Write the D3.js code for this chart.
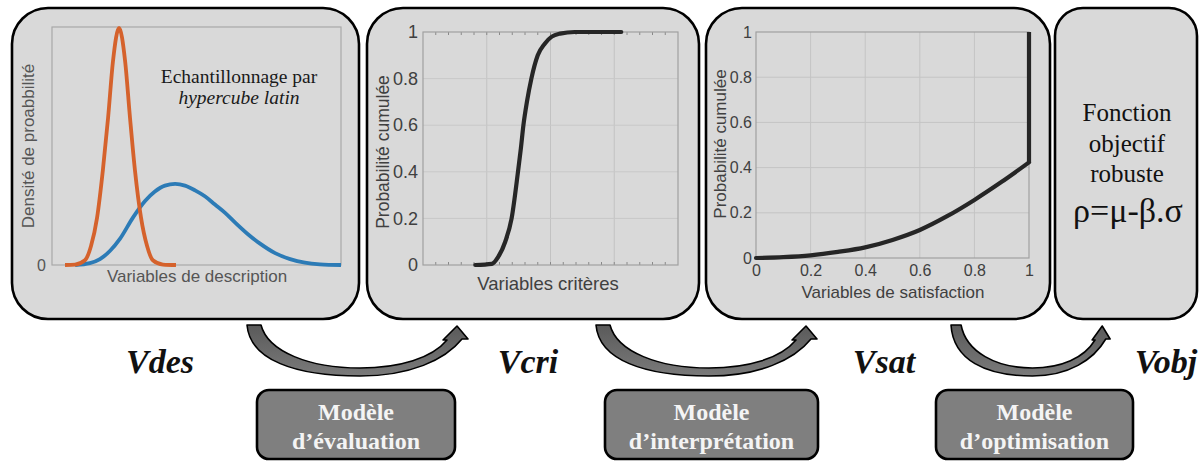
<!DOCTYPE html>
<html><head><meta charset="utf-8">
<script src="https://cdn.jsdelivr.net/npm/d3@7"></script>
<style>
html,body{margin:0;padding:0;background:#fff;}
svg{display:block;}
</style></head>
<body>
<svg id="c" width="1200" height="461"></svg>
<script>
// ---------- DATA ----------
const descX_orange = [4.5, 8, 11.4, 13.5, 15.6, 17.6, 19.4, 21.1, 23.2, 25.3, 27.0, 28.7, 30.8, 32.9, 34.9, 38.4, 42.9];
const descY_orange = [0, 0.002, 0.02, 0.08, 0.2, 0.4, 0.62, 0.86, 1.0, 0.86, 0.62, 0.4, 0.2, 0.08, 0.02, 0.002, 0];
const descX_blue = [8, 13.1, 16.6, 20.1, 23.5, 28.0, 32.2, 35.6, 39.1, 42.6, 46.0, 49.5, 52.9, 56.4, 59.9, 63.3, 67.8, 72.0, 77.2, 82.4, 87.5, 92.7, 100];
const descY_blue = [0, 0.008, 0.025, 0.06, 0.11, 0.2, 0.27, 0.31, 0.335, 0.342, 0.335, 0.315, 0.29, 0.255, 0.22, 0.18, 0.13, 0.09, 0.05, 0.025, 0.01, 0.003, 0];

const critX = [0.82, 1.08, 1.18, 1.29, 1.39, 1.49, 1.535, 1.575, 1.63, 1.70, 1.80, 1.91, 2.02, 2.15, 2.38, 3.11];
const critY = [0, 0.005, 0.035, 0.1, 0.2, 0.4, 0.5, 0.6, 0.7, 0.8, 0.9, 0.95, 0.98, 0.993, 1.0, 1.0];

const satX = [0, 0.1, 0.2, 0.3, 0.4, 0.5, 0.6, 0.7, 0.8, 0.9, 1.0];
const satY = [0, 0.004, 0.012, 0.027, 0.047, 0.08, 0.124, 0.185, 0.257, 0.337, 0.423];
const satJumpX = [1.0, 1.0];
const satJumpY = [0.423, 1.0];

const probTicks = [0, 0.2, 0.4, 0.6, 0.8, 1];
const probTickLabels = ["0", "0.2", "0.4", "0.6", "0.8", "1"];
const critGridX = [1, 2, 3];
const critMinorX = [0.2,0.4,0.6,0.8,1.2,1.4,1.6,1.8,2.2,2.4,2.6,2.8,3.2,3.4,3.6,3.8];

const varLabels = ["Vdes", "Vcri", "Vsat", "Vobj"];
const modelLine1 = ["Modèle", "Modèle", "Modèle"];
const modelLine2 = ["d’évaluation", "d’interprétation", "d’optimisation"];
const objLines = ["Fonction", "objectif", "robuste"];
const objFormula = "ρ=μ-β.σ";

// ---------- DRAW ----------
const svg = d3.select("#c");
const SANS = "'Liberation Sans', Arial, sans-serif";
const SERIF = "'Liberation Serif', 'Times New Roman', serif";
const SERIF_GREEK = "'Liberation Serif', 'DejaVu Serif', 'Noto Serif', serif";

const panels = [
  {x:12, y:8, w:347, h:311, r:36},
  {x:367, y:8, w:332, h:311, r:36},
  {x:706, y:8, w:344, h:311, r:36},
  {x:1055, y:8, w:142, h:311, r:28}
];
svg.selectAll("rect.panel").data(panels).enter().append("rect")
  .attr("class","panel")
  .attr("x", d=>d.x).attr("y", d=>d.y).attr("width", d=>d.w).attr("height", d=>d.h)
  .attr("rx", d=>d.r).attr("ry", d=>d.r)
  .attr("fill", "#d9d9d9").attr("stroke", "#000").attr("stroke-width", 2.6);

// ---- Panel 1: densities ----
{
  const x = d3.scaleLinear().domain([0,100]).range([52,341]);
  const y = d3.scaleLinear().domain([0,1]).range([265,28]);
  const g = svg.append("g");
  g.append("rect").attr("x",52).attr("y",27).attr("width",289).attr("height",238)
    .attr("fill","none").attr("stroke","#a8a8a8").attr("stroke-width",1.2);
  const line = d3.line().x(d=>x(d[0])).y(d=>y(d[1])).curve(d3.curveMonotoneX);
  g.append("path").attr("d", line(descX_blue.map((v,i)=>[v,descY_blue[i]])))
    .attr("fill","none").attr("stroke","#2C7BB6").attr("stroke-width",3.8);
  g.append("path").attr("d", line(descX_orange.map((v,i)=>[v,descY_orange[i]])))
    .attr("fill","none").attr("stroke","#D5622C").attr("stroke-width",3.8);
  const ax = g.append("g").attr("transform","translate(52,0)")
    .call(d3.axisLeft(y).tickValues([0]).tickSize(0).tickPadding(6).tickFormat(d=>"0"));
  ax.select(".domain").remove();
  ax.selectAll("text").attr("font-family",SANS).attr("font-size",16).attr("fill","#555");
  g.append("text").attr("x",197).attr("y",282).attr("text-anchor","middle")
    .attr("font-family",SANS).attr("font-size",17).attr("fill","#555").text("Variables de description");
  g.append("text").attr("transform","translate(34,146) rotate(-90)").attr("text-anchor","middle")
    .attr("font-family",SANS).attr("font-size",17).attr("fill","#555").text("Densité de proabbilité");
  g.append("text").attr("x",239).attr("y",83).attr("text-anchor","middle")
    .attr("font-family",SERIF).attr("font-size",19.5).attr("fill","#1a1a1a").text("Echantillonnage par");
  g.append("text").attr("x",239).attr("y",104).attr("text-anchor","middle")
    .attr("font-family",SERIF).attr("font-style","italic").attr("font-size",19.5).attr("fill","#1a1a1a").text("hypercube latin");
}

// ---- Panel 2: CDF criteria ----
{
  const x = d3.scaleLinear().domain([0,4]).range([423,678]);
  const y = d3.scaleLinear().domain([0,1]).range([265,32]);
  const g = svg.append("g");
  g.selectAll("line.gx").data(critGridX).enter().append("line")
    .attr("x1",d=>x(d)).attr("x2",d=>x(d)).attr("y1",y(0)).attr("y2",y(1))
    .attr("stroke","#c2c2c2").attr("stroke-width",1);
  g.selectAll("line.gy").data(probTicks.slice(1,5)).enter().append("line")
    .attr("x1",x(0)).attr("x2",x(4)).attr("y1",d=>y(d)).attr("y2",d=>y(d))
    .attr("stroke","#c8c8c8").attr("stroke-width",1);
  g.selectAll("line.mt").data(critMinorX.concat(critGridX)).enter().append("line")
    .attr("x1",d=>x(d)).attr("x2",d=>x(d)).attr("y1",y(0)).attr("y2",y(0)-3)
    .attr("stroke","#888").attr("stroke-width",1);
  g.selectAll("line.mt2").data(critMinorX.concat(critGridX)).enter().append("line")
    .attr("x1",d=>x(d)).attr("x2",d=>x(d)).attr("y1",y(1)).attr("y2",y(1)+3)
    .attr("stroke","#888").attr("stroke-width",1);
  g.append("rect").attr("x",423).attr("y",32).attr("width",255).attr("height",233)
    .attr("fill","none").attr("stroke","#a0a0a0").attr("stroke-width",1.2);
  const line = d3.line().x(d=>x(d[0])).y(d=>y(d[1])).curve(d3.curveMonotoneX);
  g.append("path").attr("d", line(critX.map((v,i)=>[v,critY[i]])))
    .attr("fill","none").attr("stroke","#262626").attr("stroke-width",4.2).attr("stroke-linecap","round");
  const ax = g.append("g").attr("transform","translate(423,0)")
    .call(d3.axisLeft(y).tickValues(probTicks).tickSize(0).tickPadding(5).tickFormat((d,i)=>probTickLabels[i]));
  ax.select(".domain").remove();
  ax.selectAll("text").attr("font-family",SANS).attr("font-size",18).attr("fill","#404040");
  g.append("text").attr("x",548).attr("y",290).attr("text-anchor","middle")
    .attr("font-family",SANS).attr("font-size",18.5).attr("fill","#404040").text("Variables critères");
  g.append("text").attr("transform","translate(389,152) rotate(-90)").attr("text-anchor","middle")
    .attr("font-family",SANS).attr("font-size",17.5).attr("fill","#404040").text("Probabilité cumulée");
}

// ---- Panel 3: CDF satisfaction ----
{
  const x = d3.scaleLinear().domain([0,1]).range([756,1029]);
  const y = d3.scaleLinear().domain([0,1]).range([258,32]);
  const g = svg.append("g");
  const inner = probTicks.slice(1,5);
  g.selectAll("line.gx").data(inner).enter().append("line")
    .attr("x1",d=>x(d)).attr("x2",d=>x(d)).attr("y1",y(0)).attr("y2",y(1))
    .attr("stroke","#c4c4c4").attr("stroke-width",1);
  g.selectAll("line.gy").data(inner).enter().append("line")
    .attr("x1",x(0)).attr("x2",x(1)).attr("y1",d=>y(d)).attr("y2",d=>y(d))
    .attr("stroke","#c4c4c4").attr("stroke-width",1);
  g.append("rect").attr("x",756).attr("y",32).attr("width",273).attr("height",226)
    .attr("fill","none").attr("stroke","#a0a0a0").attr("stroke-width",1.2);
  const line = d3.line().x(d=>x(d[0])).y(d=>y(d[1])).curve(d3.curveMonotoneX);
  g.append("path").attr("d", line(satX.map((v,i)=>[v,satY[i]])))
    .attr("fill","none").attr("stroke","#262626").attr("stroke-width",4.2).attr("stroke-linecap","round");
  g.append("path").attr("d", d3.line().x(d=>x(d[0])).y(d=>y(d[1]))(satJumpX.map((v,i)=>[v,satJumpY[i]])))
    .attr("fill","none").attr("stroke","#262626").attr("stroke-width",4.2).attr("stroke-linecap","butt");
  const ay = g.append("g").attr("transform","translate(756,0)")
    .call(d3.axisLeft(y).tickValues(probTicks).tickSize(0).tickPadding(4).tickFormat((d,i)=>probTickLabels[i]));
  ay.select(".domain").remove();
  ay.selectAll("text").attr("font-family",SANS).attr("font-size",16).attr("fill","#404040");
  const axx = g.append("g").attr("transform","translate(0,258)")
    .call(d3.axisBottom(x).tickValues(probTicks).tickSize(0).tickPadding(7).tickFormat((d,i)=>probTickLabels[i]));
  axx.select(".domain").remove();
  axx.selectAll("text").attr("font-family",SANS).attr("font-size",16).attr("fill","#404040");
  g.append("text").attr("x",893).attr("y",298).attr("text-anchor","middle")
    .attr("font-family",SANS).attr("font-size",17).attr("fill","#404040").text("Variables de satisfaction");
  g.append("text").attr("transform","translate(726,144) rotate(-90)").attr("text-anchor","middle")
    .attr("font-family",SANS).attr("font-size",17).attr("fill","#404040").text("Probabilité cumulée");
}

// ---- Panel 4: objective ----
{
  const g = svg.append("g");
  const ys = [121, 152, 182];
  g.selectAll("text.obj").data(objLines).enter().append("text")
    .attr("x",1127).attr("y",(d,i)=>ys[i]).attr("text-anchor","middle")
    .attr("font-family",SERIF).attr("font-size",25).attr("fill","#111").text(d=>d);
  g.append("text").attr("x",1128).attr("y",222).attr("text-anchor","middle")
    .attr("font-family",SERIF_GREEK).attr("font-size",34).attr("fill","#111").text(objFormula);
}

// ---- Curved arrows ----
function arrowPath(x0, s){
  const X = v => x0 + (v-247)*s;
  return `M${X(247)},325 L${X(261)},325 `+
    `C${X(268)},352 ${X(310)},368 ${X(360)},368 `+
    `C${X(400)},368 ${X(432)},358 ${X(447)},340 `+
    `L${X(443)},340 L${X(457)},326 L${X(468)},339 L${X(462)},339 `+
    `C${X(445)},360 ${X(410)},376 ${X(360)},376 `+
    `C${X(295)},376 ${X(250)},360 ${X(247)},325 Z`;
}
const defs = svg.append("defs");
const grad = defs.append("linearGradient").attr("id","ag").attr("x1","0").attr("y1","0").attr("x2","0").attr("y2","1");
grad.append("stop").attr("offset","0").attr("stop-color","#5a5a5a");
grad.append("stop").attr("offset","1").attr("stop-color","#7a7a7a");
const arrows = [{x0:247, s:1}, {x0:596, s:1}, {x0:951, s:0.72}];
svg.selectAll("path.arrow").data(arrows).enter().append("path")
  .attr("d", d=>arrowPath(d.x0, d.s))
  .attr("fill","url(#ag)").attr("stroke","#000").attr("stroke-width",1.6).attr("stroke-linejoin","round");

// ---- Variable labels ----
const varX = [160, 528, 884, 1166];
svg.selectAll("text.var").data(varLabels).enter().append("text")
  .attr("x",(d,i)=>varX[i]).attr("y",373).attr("text-anchor","middle")
  .attr("font-family",SERIF).attr("font-style","italic").attr("font-weight","bold")
  .attr("font-size",34).attr("fill","#111").text(d=>d);

// ---- Model boxes ----
const boxes = [{x:257, w:198}, {x:605, w:213}, {x:936, w:197}];
const bg = svg.selectAll("g.box").data(boxes).enter().append("g");
bg.append("rect").attr("x",d=>d.x).attr("y",390).attr("width",d=>d.w).attr("height",69)
  .attr("rx",12).attr("ry",12).attr("fill","#7f7f7f").attr("stroke","#000").attr("stroke-width",2.6);
bg.append("text").attr("x",d=>d.x+d.w/2).attr("y",420).attr("text-anchor","middle")
  .attr("font-family",SERIF).attr("font-weight","bold").attr("font-size",24).attr("fill","#f4f4f4")
  .text((d,i)=>modelLine1[i]);
bg.append("text").attr("x",d=>d.x+d.w/2).attr("y",449).attr("text-anchor","middle")
  .attr("font-family",SERIF).attr("font-weight","bold").attr("font-size",24).attr("fill","#f4f4f4")
  .text((d,i)=>modelLine2[i]);
</script>
</body></html>
